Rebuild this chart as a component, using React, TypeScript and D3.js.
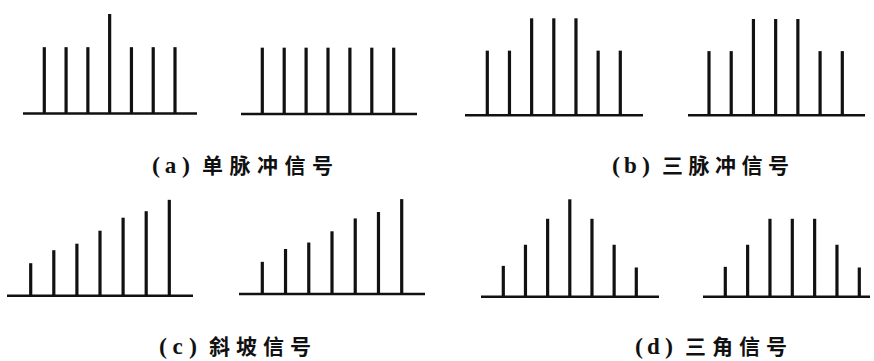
import React from "react";
import * as d3 from "d3";

// Sample values for each stem plot (seven samples per sequence)
const singlePulseA = [2, 2, 2, 3, 2, 2, 2];
const singlePulseB = [2, 2, 2, 2, 2, 2, 2];
const triplePulseA = [2, 2, 3, 3, 3, 2, 2];
const triplePulseB = [2, 2, 3, 3, 3, 2, 2];
const rampA = [1, 1.4, 1.6, 2, 2.4, 2.6, 2.95];
const rampB = [1, 1.4, 1.6, 1.95, 2.35, 2.55, 2.95];
const triangleA = [0.95, 1.6, 2.4, 3, 2.4, 1.6, 0.9];
const triangleB = [0.92, 1.6, 2.4, 2.4, 2.4, 1.6, 0.9];

// Caption labels and titles
const captionLabels = ["a", "b", "c", "d"];
const captionTitles = ["单脉冲信号", "三脉冲信号", "斜坡信号", "三角信号"];

const W = 874;
const H = 361;
const MAX_VALUE = 3;

// Layout of each small plot: axis extent, first/last stem x, baseline y, pixel height of MAX_VALUE
const frames = [
  { data: singlePulseA, axis: [23, 197], stems: [44.3, 175], base: 113.5, full: 99.5 },
  { data: singlePulseB, axis: [241, 417], stems: [262.3, 393.7], base: 114, full: 99.5 },
  { data: triplePulseA, axis: [465, 643], stems: [487.3, 620.3], base: 115.3, full: 97 },
  { data: triplePulseB, axis: [688, 865], stems: [709, 842.3], base: 115.3, full: 96.3 },
  { data: rampA, axis: [7, 193], stems: [30.7, 169.3], base: 295.7, full: 97.5 },
  { data: rampB, axis: [239, 425], stems: [262.3, 401.7], base: 294, full: 96.5 },
  { data: triangleA, axis: [481, 659], stems: [503.3, 636.3], base: 296.7, full: 97.4 },
  { data: triangleB, axis: [703, 870], stems: [725.3, 859.3], base: 296.7, full: 97.4 },
];

// Caption anchor: x where the title begins, baseline y, extra spacing between characters
const captionPos = [
  { x: 202, y: 173, spacing: 6.5 },
  { x: 662, y: 173, spacing: 5.5 },
  { x: 209, y: 354, spacing: 6 },
  { x: 685, y: 354, spacing: 6 },
];

const INK = "#111";
const CJK = "'Noto Sans CJK SC', 'Noto Sans', sans-serif";
const SERIF = "'Liberation Serif', serif";

function StemPlot({ frame }: { frame: (typeof frames)[number] }) {
  const x = d3
    .scaleLinear()
    .domain([0, frame.data.length - 1])
    .range(frame.stems);
  const y = d3
    .scaleLinear()
    .domain([0, MAX_VALUE])
    .range([frame.base, frame.base - frame.full]);
  return (
    <g>
      <line
        x1={frame.axis[0]}
        x2={frame.axis[1]}
        y1={frame.base}
        y2={frame.base}
        stroke={INK}
        strokeWidth={2.6}
      />
      {frame.data.map((v, i) => (
        <line
          key={i}
          x1={x(i)}
          x2={x(i)}
          y1={y(0)}
          y2={y(v)}
          stroke={INK}
          strokeWidth={3.2}
        />
      ))}
    </g>
  );
}

export default function App() {
  return (
    <svg
      width={W}
      height={H}
      viewBox={`0 0 ${W} ${H}`}
      style={{ position: "absolute", left: 0, top: 0, display: "block", background: "#fff" }}
    >
      <rect width={W} height={H} fill="#fff" />
      {frames.map((f, i) => (
        <StemPlot key={i} frame={f} />
      ))}
      {captionTitles.map((t, i) => {
        const p = captionPos[i];
        return (
          <g key={t} fill={INK}>
            <text x={p.x - 46} y={p.y} textAnchor="middle" fontSize={24} fontFamily={SERIF} fontWeight="bold">
              (
            </text>
            <text x={p.x - 31.5} y={p.y} textAnchor="middle" fontSize={23} fontFamily={SERIF} fontWeight="bold">
              {captionLabels[i]}
            </text>
            <text x={p.x - 16} y={p.y} textAnchor="middle" fontSize={24} fontFamily={SERIF} fontWeight="bold">
              )
            </text>
            <text
              x={p.x}
              y={p.y}
              fontSize={21}
              fontFamily={CJK}
              fontWeight={700}
              letterSpacing={p.spacing}
            >
              {t}
            </text>
          </g>
        );
      })}
    </svg>
  );
}
